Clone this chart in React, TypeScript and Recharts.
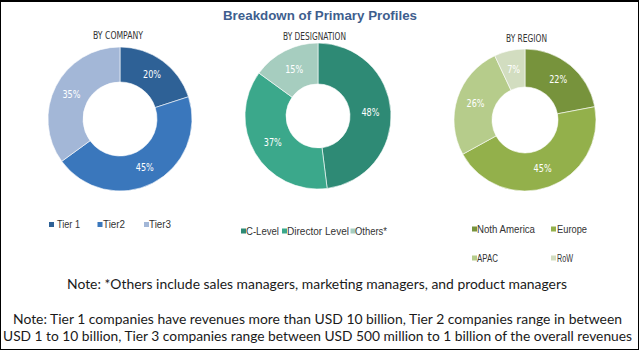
import React from 'react';
import { PieChart, Pie, Cell } from 'recharts';

// Data
const companyLabels = ['Tier 1', 'Tier2', 'Tier3'];
const companyValues = [20, 45, 35];
const designationLabels = ['C-Level', 'Director Level', 'Others*'];
const designationValues = [48, 37, 15];
const regionLabels = ['Noth America', 'Europe', 'APAC', 'RoW'];
const regionValues = [22, 45, 26, 7];

const companyColors = ['#2E6196', '#3A77BC', '#A3B7D7'];
const designationColors = ['#2E8A75', '#3BA88B', '#A6CDBF'];
const regionColors = ['#77933C', '#93B04B', '#B6CC8B', '#D2DDC0'];

const toRows = (labels: string[], values: number[]) =>
  labels.map((name, i) => ({ name, value: values[i] }));

const RAD = Math.PI / 180;
const NARROW = '"Liberation Sans Narrow", "DejaVu Sans Condensed", Arial, sans-serif';
const SANS = '"Liberation Sans", Arial, sans-serif';

// white percentage inside each ring segment
const renderLabel = (props: any) => {
  const { cx, cy, midAngle, innerRadius, outerRadius, value } = props;
  const r = (innerRadius + outerRadius) / 2;
  const x = cx + r * Math.cos(-midAngle * RAD);
  const y = cy + r * Math.sin(-midAngle * RAD);
  const txt = `${value}%`;
  return (
    <text
      x={x}
      y={y}
      fill="#ffffff"
      textAnchor="middle"
      dominantBaseline="central"
      fontSize={11}
      fontFamily={NARROW}
      textLength={(txt.length - 1) * 5 + 8}
      lengthAdjust="spacingAndGlyphs"
    >
      {txt}
    </text>
  );
};

interface LegendItem {
  label: string;
  color: string;
  x: number;
  y: number;
  tx: number;
  w: number;
}

const legendItems: LegendItem[] = [
  { label: companyLabels[0], color: companyColors[0], x: 49, y: 224.5, tx: 57, w: 23 },
  { label: companyLabels[1], color: companyColors[1], x: 97.5, y: 224.5, tx: 103, w: 22 },
  { label: companyLabels[2], color: companyColors[2], x: 144, y: 224.5, tx: 149, w: 22 },
  { label: designationLabels[0], color: designationColors[0], x: 241, y: 231, tx: 246, w: 33 },
  { label: designationLabels[1], color: designationColors[1], x: 282, y: 231, tx: 287, w: 62 },
  { label: designationLabels[2], color: designationColors[2], x: 350.5, y: 231, tx: 355, w: 32 },
  { label: regionLabels[0], color: regionColors[0], x: 472, y: 229, tx: 477, w: 58 },
  { label: regionLabels[1], color: regionColors[1], x: 551, y: 229, tx: 557, w: 30 },
  { label: regionLabels[2], color: regionColors[2], x: 472, y: 258, tx: 477, w: 21 },
  { label: regionLabels[3], color: regionColors[3], x: 551, y: 258, tx: 557, w: 16 },
];

const App: React.FC = () => {
  const pieCommon = {
    dataKey: 'value',
    startAngle: 90,
    endAngle: -270,
    stroke: '#ffffff',
    strokeWidth: 0.6,
    labelLine: false,
    label: renderLabel,
    isAnimationActive: false,
  };

  return (
    <div
      style={{
        position: 'absolute',
        left: 0,
        top: 0,
        width: 639,
        height: 351,
        background: '#ffffff',
        overflow: 'hidden',
      }}
    >
      <PieChart width={639} height={351} margin={{ top: 0, right: 0, bottom: 0, left: 0 }}>
        <Pie
          {...pieCommon}
          data={toRows(companyLabels, companyValues)}
          cx={120}
          cy={119}
          innerRadius={37}
          outerRadius={72}
        >
          {companyValues.map((_, i) => (
            <Cell key={`c-${i}`} fill={companyColors[i]} />
          ))}
        </Pie>
        <Pie
          {...pieCommon}
          data={toRows(designationLabels, designationValues)}
          cx={318}
          cy={116}
          innerRadius={32}
          outerRadius={73}
        >
          {designationValues.map((_, i) => (
            <Cell key={`d-${i}`} fill={designationColors[i]} />
          ))}
        </Pie>
        <Pie
          {...pieCommon}
          data={toRows(regionLabels, regionValues)}
          cx={525}
          cy={120}
          innerRadius={33}
          outerRadius={71}
        >
          {regionValues.map((_, i) => (
            <Cell key={`r-${i}`} fill={regionColors[i]} />
          ))}
        </Pie>
      </PieChart>

      {/* Titles, legends and notes */}
      <svg
        width={639}
        height={351}
        style={{ position: 'absolute', left: 0, top: 0, pointerEvents: 'none' }}
      >
        <text
          x={223}
          y={19.5}
          textLength={194}
          lengthAdjust="spacingAndGlyphs"
          fontFamily={SANS}
          fontWeight="bold"
          fontSize={13}
          fill="#3E5E8E"
        >
          Breakdown of Primary Profiles
        </text>

        <text x={93} y={38.5} textLength={50} lengthAdjust="spacingAndGlyphs" fontFamily={NARROW} fontSize={10} fill="#333">
          BY COMPANY
        </text>
        <text x={283} y={39.5} textLength={63} lengthAdjust="spacingAndGlyphs" fontFamily={NARROW} fontSize={10} fill="#333">
          BY DESIGNATION
        </text>
        <text x={506} y={41.5} textLength={41} lengthAdjust="spacingAndGlyphs" fontFamily={NARROW} fontSize={10} fill="#333">
          BY REGION
        </text>

        {legendItems.map((item) => (
          <g key={item.label}>
            <rect x={item.x} y={item.y - 2.5} width={5} height={5} fill={item.color} />
            <text
              x={item.tx}
              y={item.y + 3.5}
              textLength={item.w}
              lengthAdjust="spacingAndGlyphs"
              fontFamily={SANS}
              fontSize={10}
              fill="#333"
            >
              {item.label}
            </text>
          </g>
        ))}

        <text x={67} y={289} textLength={500} lengthAdjust="spacingAndGlyphs" fontFamily="Lato, sans-serif" fontSize={13} fill="#1a1a1a">
          Note: *Others include sales managers, marketing managers, and product managers
        </text>
        <text x={13} y={324} textLength={609} lengthAdjust="spacingAndGlyphs" fontFamily="Lato, sans-serif" fontSize={13} fill="#1a1a1a">
          Note: Tier 1 companies have revenues more than USD 10 billion, Tier 2 companies range in between
        </text>
        <text x={3} y={341} textLength={629} lengthAdjust="spacingAndGlyphs" fontFamily="Lato, sans-serif" fontSize={13} fill="#1a1a1a">
          USD 1 to 10 billion, Tier 3 companies range between USD 500 million to 1 billion of the overall revenues
        </text>
      </svg>

      {/* Frame */}
      <div
        style={{
          position: 'absolute',
          left: 0,
          top: 0,
          width: 639,
          height: 350,
          boxSizing: 'border-box',
          border: '1px solid #000',
          borderTopWidth: 2,
          pointerEvents: 'none',
        }}
      />
    </div>
  );
};

export default App;
